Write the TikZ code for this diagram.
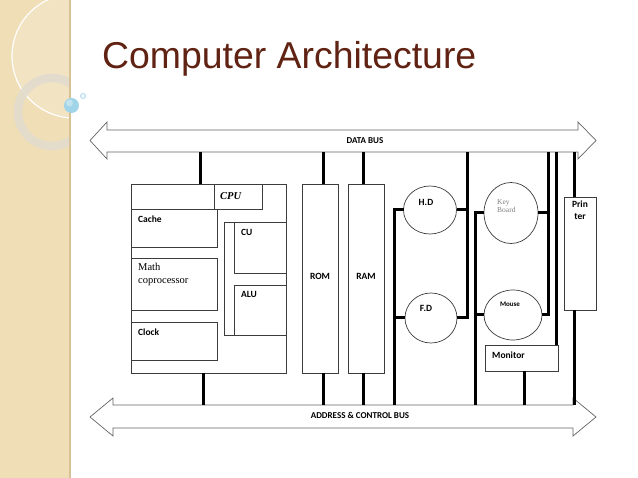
\documentclass[tikz,border=0pt]{standalone}
\usepackage{fontspec}
\setmainfont{Liberation Serif}
\newfontfamily\arialf{Liberation Sans}
\newfontfamily\calib{Carlito}
\usetikzlibrary{shapes.geometric}
\definecolor{beige}{RGB}{240,222,182}
\definecolor{paneledge}{RGB}{214,194,150}
\definecolor{titlebrown}{RGB}{96,34,18}
\definecolor{boxline}{RGB}{60,60,60}
\definecolor{busline}{RGB}{100,100,100}
\definecolor{ringcol}{RGB}{226,220,206}
\definecolor{bubble}{RGB}{160,212,232}
\tikzset{
  box/.style={draw=boxline, line width=0.7pt, fill=white, inner sep=0pt, outer sep=0pt},
  disk/.style={ellipse, draw=boxline, line width=0.7pt, fill=white, inner sep=0pt, outer sep=0pt},
  conn/.style={line width=3pt, black, line join=miter},
  bus/.style={draw=busline, line width=0.7pt, fill=white, line join=miter},
  lbl/.style={font=\calib\bfseries\fontsize{9.5}{11}\selectfont, inner sep=0pt},
  slbl/.style={font=\fontsize{10.5}{13.5}\selectfont, inner sep=0pt, align=left},
}
\begin{document}
\begin{tikzpicture}[x=1pt,y=-1pt]
\useasboundingbox (0,0) rectangle (638,478);
% side panel
\fill[beige] (0,0) rectangle (70,478);
\begin{scope}
  \clip (0,0) rectangle (70,478);
  \draw[white, line width=1.2pt, fill=white, fill opacity=0.18] (74,56) circle[radius=62];
  \draw[ringcol, line width=8.5pt, opacity=0.9] (52,112) circle[radius=34];
\end{scope}
\draw[paneledge, line width=1.5pt] (70,0) -- (70,478);
\fill[bubble] (71.5,105.5) circle[radius=7.5];
\fill[white, opacity=0.35] (69.5,103) circle[radius=3.5];
\draw[bubble, line width=0.8pt] (83,96) circle[radius=2.5];
% title
\node[anchor=base west, inner sep=0pt, text=titlebrown, font=\arialf\fontsize{37.4}{40}\selectfont] (title) at (102,69) {Computer Architecture};
% buses
\draw[bus] (90,140.5) -- (107,122) -- (107,130) -- (578,130) -- (578,122) -- (596,140.5) -- (578,159) -- (578,152) -- (107,152) -- (107,159) -- cycle;
\node[lbl, font=\calib\bfseries\fontsize{9}{11}\selectfont] (dbl) at (365,140.5) {DATA BUS};
\draw[bus] (90,417) -- (113,398) -- (113,405) -- (573,405) -- (573,398) -- (596,417) -- (573,436) -- (573,428) -- (113,428) -- (113,436) -- cycle;
\node[lbl, font=\calib\bfseries\fontsize{9}{11}\selectfont] (abl) at (360,415) {ADDRESS \& CONTROL BUS};
\coordinate (dbB) at (0,152);
\coordinate (abT) at (0,405);
% CPU
\node[box, minimum width=155pt, minimum height=189pt] (cpu) at (208.5,278.5) {};
\node[box, minimum width=48pt, minimum height=25pt] (cpulbl) at (238,196.5) {};
\node[anchor=west, inner sep=0pt, font=\bfseries\itshape\fontsize{10.5}{12}\selectfont] (cput) at (220,196.5) {CPU};
\node[box, minimum width=86pt, minimum height=38pt] (cache) at (174,228) {};
\node[lbl, anchor=west] (cachet) at (138,219) {Cache};
\node[box, minimum width=86pt, minimum height=52pt] (math) at (174,284) {};
\node[slbl, anchor=north west] (matht) at (138,263) {Math\\coprocessor};
\node[box, minimum width=86pt, minimum height=38pt] (clock) at (174,341) {};
\node[lbl, anchor=west] (clockt) at (138,332) {Clock};
\node[box, minimum width=62pt, minimum height=113pt] (frame) at (255,278.5) {};
\node[box, minimum width=52pt, minimum height=51pt] (cu) at (260,247.5) {};
\node[lbl, anchor=west] (cut) at (241,232) {CU};
\node[box, minimum width=52pt, minimum height=50pt] (alu) at (260,310) {};
\node[lbl, anchor=west] (alut) at (241,294) {ALU};
% memory
\node[box, minimum width=36pt, minimum height=189pt] (rom) at (320,278.5) {};
\node[lbl] (romt) at (320,276) {ROM};
\node[box, minimum width=36pt, minimum height=189pt] (ram) at (366,278.5) {};
\node[lbl] (ramt) at (366,276) {RAM};
% disks
\node[disk, minimum width=53pt, minimum height=48pt] (hd) at (430,210) {};
\node[lbl] (hdt) at (426,202) {H.D};
\node[disk, minimum width=52pt, minimum height=50pt] (fd) at (431,318) {};
\node[lbl] (fdt) at (426,308) {F.D};
\node[disk, minimum width=54pt, minimum height=61pt] (kb) at (511,213) {};
\node[anchor=west, inner sep=0pt, text=gray, font=\fontsize{7.5}{8.5}\selectfont, align=left] (kbt) at (497,206) {Key\\Board};
\node[disk, minimum width=58pt, minimum height=50pt] (ms) at (513,315) {};
\node[lbl, font=\calib\bfseries\fontsize{7}{8}\selectfont] (mst) at (510,304) {Mouse};
\node[box, minimum width=73pt, minimum height=26pt] (mon) at (521.5,358) {};
\node[lbl, anchor=west] (mont) at (492,355) {Monitor};
\node[box, minimum width=32pt, minimum height=113pt] (prt) at (580,253.5) {};
\node[lbl, align=center, font=\calib\bfseries\fontsize{9.5}{12}\selectfont, anchor=north] (prtt) at (580,201) {Prin\\ter};
% connector x positions
\coordinate (xcpuT) at (200,0);
\coordinate (xcpuB) at (203,0);
\coordinate (xrom) at (323,0);
\coordinate (xram) at (363,0);
\coordinate (xs1) at (467,0);
\coordinate (xs2) at (394,0);
\coordinate (xs3) at (475,0);
\coordinate (xs4) at (548,0);
\coordinate (xs5) at (556,0);
\coordinate (xmon) at (524,0);
\coordinate (xprt) at (574,0);
% connectors
\draw[conn] (cpu.north -| xcpuT) -- (dbB -| xcpuT);
\draw[conn] (cpu.south -| xcpuB) -- (abT -| xcpuB);
\draw[conn] (rom.north -| xrom) -- (dbB -| xrom);
\draw[conn] (rom.south -| xrom) -- (abT -| xrom);
\draw[conn] (ram.north -| xram) -- (dbB -| xram);
\draw[conn] (ram.south -| xram) -- (abT -| xram);
\draw[conn] (fd.east) -- (fd.east -| xs1) -- (dbB -| xs1);
\draw[conn] (hd.east) -- (hd.east -| xs1);
\draw[conn] (hd.west) -- (hd.west -| xs2) -- (abT -| xs2);
\draw[conn] (fd.west) -- (fd.west -| xs2);
\draw[conn] (kb.west) -- (kb.west -| xs3) -- (abT -| xs3);
\draw[conn] (ms.west) -- (ms.west -| xs3);
\draw[conn] (ms.east) -- (ms.east -| xs4) -- (dbB -| xs4);
\draw[conn] (kb.east) -- (kb.east -| xs4);
\draw[conn] (mon.north -| xs5) -- (dbB -| xs5);
\draw[conn] (mon.south -| xmon) -- (abT -| xmon);
\draw[conn] (prt.north -| xprt) -- (dbB -| xprt);
\draw[conn] (prt.south -| xprt) -- (abT -| xprt);
\end{tikzpicture}
\end{document}
